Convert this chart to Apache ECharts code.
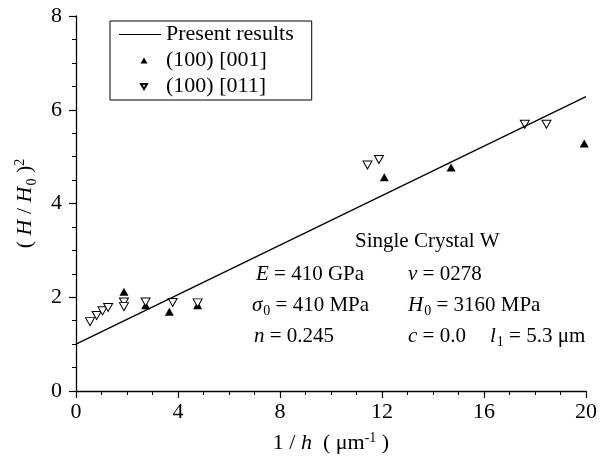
<!DOCTYPE html>
<html>
<head>
<meta charset="utf-8">
<title>Single Crystal W</title>
<script src="https://cdn.jsdelivr.net/npm/echarts@6/dist/echarts.min.js"></script>
<style>
    html, body { margin: 0; background: #fff; }
    #main { width: 600px; height: 466px; }
</style>
</head>
<body>
<div id="main"></div>
<script>
    // model line (two end points)
    var lineData = [[0, 1.0], [20, 6.28]];
    // (100) [001] - filled up triangles
    var data001 = [[1.88, 2.12], [2.73, 1.83], [3.66, 1.69], [4.77, 1.83],
                   [12.09, 4.56], [14.71, 4.77], [19.93, 5.28]];
    // (100) [011] - open down triangles
    var data011 = [[0.55, 1.48], [0.81, 1.61], [1.04, 1.71], [1.26, 1.78],
                   [1.88, 1.90], [1.88, 1.80], [2.73, 1.90], [3.79, 1.89],
                   [4.77, 1.88], [11.43, 4.82], [11.88, 4.94], [17.6, 5.69],
                   [18.45, 5.69]];
    var seriesNames = ['Present results', '(100) [001]', '(100) [011]'];
    var notes = [
        '{n|Single Crystal W}',
        '{i|E}{n| = 410 GPa}',
        '{i|ν}{n| = 0278}',
        '{i|σ}{sub|0}{n| = 410 MPa}',
        '{i|H}{sub|0}{n| = 3160 MPa}',
        '{i|n}{n| = 0.245}',
        '{i|c}{n| = 0.0}',
        '{i|l}{sub|1}{n| = 5.3 μm}'
    ];

    var FONT = 'Liberation Serif';

    function richSet(size) {
        return {
            n: { fontFamily: FONT, fontSize: size, color: '#000', fill: '#000' },
            i: { fontFamily: FONT, fontSize: size, fontStyle: 'italic', color: '#000', fill: '#000' },
            sub: { fontFamily: FONT, fontSize: Math.round(size * 0.65), color: '#000', fill: '#000',
                   padding: [13, 0, 0, 1] },
            sup: { fontFamily: FONT, fontSize: Math.round(size * 0.62), color: '#000', fill: '#000',
                   padding: [0, 0, 10, 0] }
        };
    }

    // where each note goes: [x, y]
    var notePos = [[355, 241], [256, 274], [408, 274], [252, 305],
                   [408, 305], [254, 336], [408, 336], [490, 336]];

    var graphics = notes.map(function (t, k) {
        return {
            type: 'text',
            x: notePos[k][0],
            y: notePos[k][1],
            style: {
                text: t,
                rich: richSet(21),
                verticalAlign: 'middle',
                align: 'left',
                fill: '#000'
            }
        };
    });

    // legend icons: a 42x8 box, mark drawn a little right of centre
    var iconLine = 'path://M0,0L0,0M42,8L42,8M0,3.4L42,3.4L42,4.6L0,4.6Z';
    var iconUp = 'path://M0,0L0,0M42,8L42,8M21.5,7L25,1L28.5,7Z';
    var iconDown = 'path://M0,0L0,0M42,8L42,8M22,1.5L28,1.5L25,6.5Z';

    var chart = echarts.init(document.getElementById('main'));
    var option = {
        animation: false,
        backgroundColor: '#fff',
        grid: { left: 76, right: 11, top: 16, bottom: 75 },
        legend: {
            orient: 'vertical',
            left: 110,
            top: 21,
            padding: [1, 18, 1, 8],
            itemGap: 1,
            itemWidth: 42,
            itemHeight: 8,
            borderColor: '#000',
            borderWidth: 1,
            borderRadius: 0,
            textStyle: { fontFamily: FONT, fontSize: 22, color: '#000', lineHeight: 25 },
            data: [
                { name: seriesNames[0], icon: iconLine },
                { name: seriesNames[1], icon: iconUp },
                { name: seriesNames[2], icon: iconDown }
            ]
        },
        xAxis: {
            type: 'value',
            min: 0, max: 20, interval: 4,
            name: '{n|1 / }{i|h}{n|  ( μm}{sup|-1}{n| )}',
            nameLocation: 'middle',
            nameGap: 40,
            nameTextStyle: { rich: richSet(22) },
            axisLine: { lineStyle: { color: '#000', width: 1.3 } },
            axisTick: { length: 7, lineStyle: { color: '#000', width: 1.2 } },
            minorTick: { show: true, splitNumber: 4, length: 4, lineStyle: { color: '#000', width: 1 } },
            axisLabel: { fontFamily: FONT, fontSize: 22, color: '#000', margin: 10 },
            splitLine: { show: false }
        },
        yAxis: {
            type: 'value',
            min: 0, max: 8, interval: 2,
            name: '{n|( }{i|H}{n| / }{i|H}{sub|0}{n| )}{sup|2}',
            nameLocation: 'middle',
            nameGap: 37,
            nameRotate: 90,
            nameTextStyle: { rich: richSet(22) },
            axisLine: { show: true, lineStyle: { color: '#000', width: 1.3 } },
            axisTick: { show: true, length: 7, lineStyle: { color: '#000', width: 1.2 } },
            minorTick: { show: true, splitNumber: 4, length: 4, lineStyle: { color: '#000', width: 1 } },
            axisLabel: { fontFamily: FONT, fontSize: 22, color: '#000', margin: 14 },
            splitLine: { show: false }
        },
        series: [
            {
                name: seriesNames[0],
                type: 'line',
                data: lineData,
                symbol: 'none',
                lineStyle: { color: '#000', width: 1.3 },
                itemStyle: { color: '#000' }
            },
            {
                name: seriesNames[1],
                type: 'scatter',
                data: data001,
                symbol: 'triangle',
                symbolSize: [9, 8],
                itemStyle: { color: '#000', opacity: 1 }
            },
            {
                name: seriesNames[2],
                type: 'scatter',
                data: data011,
                symbol: 'triangle',
                symbolRotate: 180,
                symbolSize: [9, 8],
                itemStyle: { color: '#fff', borderColor: '#000', borderWidth: 1, opacity: 1 }
            }
        ],
        graphic: graphics
    };
    chart.setOption(option);
</script>
</body>
</html>
